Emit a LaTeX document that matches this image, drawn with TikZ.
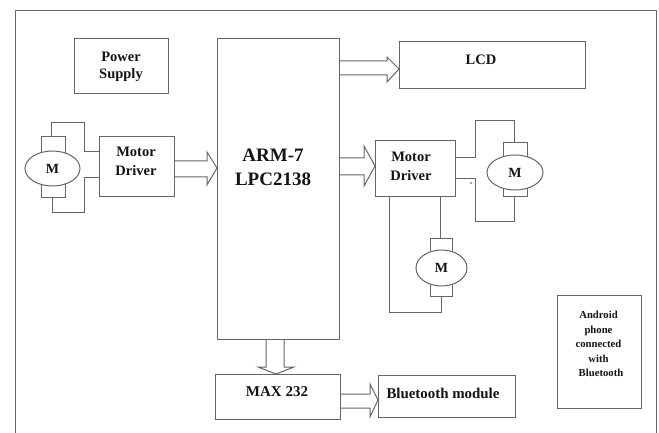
\documentclass[tikz,border=0pt]{standalone}
\usepackage{fontspec}
\setmainfont{Liberation Serif}
\usetikzlibrary{shapes.geometric}
\definecolor{ln}{gray}{0.4}
\definecolor{tx}{gray}{0.08}
\tikzset{
  box/.style={draw=ln,line width=1pt,fill=white,rectangle,inner sep=0pt,outer sep=0pt},
  wire/.style={draw=ln,line width=1pt},
  blockarr/.style={draw=ln,line width=1pt,line join=miter},
  motor/.style={draw=ln,line width=1pt,fill=white,ellipse,inner sep=0pt,outer sep=0pt,text=tx,font=\bfseries\fontsize{14}{16}\selectfont},
  lbl/.style={text=tx,align=center,inner sep=0pt,font=\bfseries\fontsize{14.5}{17}\selectfont},
  lblbig/.style={text=tx,align=center,inner sep=0pt,font=\bfseries\fontsize{19}{24}\selectfont},
  lblsmall/.style={text=tx,align=center,inner sep=0pt,font=\bfseries\fontsize{10.7}{14.5}\selectfont},
}
\begin{document}
\begin{tikzpicture}[x=1pt,y=-1pt]
\useasboundingbox (0,0) rectangle (659,433);
\fill[white] (0,0) rectangle (659,433);
% outer frame, open at the bottom
\coordinate (fbl) at (15,433);
\coordinate (ftl) at (15,11);
\coordinate (ftr) at (656,11);
\coordinate (fbr) at (656,433);
\draw[wire] (fbl) -- (ftl) -- (ftr) -- (fbr);
% blocks
\node[box,minimum width=94pt,minimum height=55pt] (power) at (121,66.5) {};
\node[box,minimum width=122pt,minimum height=300pt] (arm) at (278,189) {};
\node[box,minimum width=186pt,minimum height=47pt] (lcd) at (492,65.5) {};
\node[box,minimum width=75pt,minimum height=60pt] (mdl) at (136.5,167) {};
\node[box,minimum width=80pt,minimum height=56pt] (mdr) at (415,169) {};
\node[box,minimum width=125pt,minimum height=45pt] (max) at (277.5,396.5) {};
\node[box,minimum width=137pt,minimum height=42pt] (bt) at (446.5,396) {};
\node[box,minimum width=84pt,minimum height=113pt] (android) at (599,351.5) {};
% left motor
\node[box,minimum width=24pt,minimum height=61pt] (bl) at (53,167.5) {};
\node[motor,minimum width=55pt,minimum height=35pt] (ml) at (52.5,168.5) {M};
\coordinate (lt) at (51,122.5);
\coordinate (lt2) at (84,122.5);
\coordinate (lt3) at (84,152);
\coordinate (lb) at (52,212);
\coordinate (lb2) at (84,212);
\coordinate (lb3) at (84,178);
\draw[wire] (lt |- bl.north) -- (lt) -- (lt2) -- (lt3) -- (lt3 -| mdl.west);
\draw[wire] (lb |- bl.south) -- (lb) -- (lb2) -- (lb3) -- (lb3 -| mdl.west);
% right motor
\node[box,minimum width=24pt,minimum height=54pt] (br) at (515,170) {};
\node[motor,minimum width=56pt,minimum height=35pt] (mr) at (515,172.5) {M};
\coordinate (rt1) at (475,157.5);
\coordinate (rt2) at (475,121);
\coordinate (rt3) at (514,121);
\coordinate (rb1) at (475,179);
\coordinate (rb2) at (475,221);
\coordinate (rb3) at (514,221);
\draw[wire] (rt1 -| mdr.east) -- (rt1) -- (rt2) -- (rt3) -- (rt3 |- br.north);
\draw[wire] (rb1 -| mdr.east) -- (rb1) -- (rb2) -- (rb3) -- (rb3 |- br.south);
\fill[ln!70!black] (471,183) circle (0.8pt);
% bottom motor
\node[box,minimum width=22pt,minimum height=58pt] (bb) at (441,267) {};
\node[motor,minimum width=51pt,minimum height=36pt] (mb) at (441.5,268) {M};
\coordinate (bw) at (440.5,238);
\coordinate (bc1) at (389,312);
\coordinate (bc2) at (441,312);
\draw[wire] (bw |- mdr.south) -- (bw |- bb.north);
\draw[wire] (bc1 |- mdr.south) -- (bc1) -- (bc2) -- (bc2 |- bb.south);
% block arrows
\draw[blockarr] (arm.east |- 0,61) -- (387,61) -- (387,57) -- (lcd.west |- 0,69) -- (387,82) -- (387,75) -- (arm.east |- 0,75);
\draw[blockarr] (mdl.east |- 0,161) -- (207,161) -- (207,152) -- (arm.west |- 0,168) -- (207,185) -- (207,177) -- (mdl.east |- 0,177);
\draw[blockarr] (arm.east |- 0,158) -- (364,158) -- (364,146) -- (mdr.west |- 0,166) -- (364,186) -- (364,175) -- (arm.east |- 0,175);
\draw[blockarr] (266,0 |- arm.south) -- (266,367) -- (258,367) -- (276,0 |- max.north) -- (294,367) -- (284,367) -- (284,0 |- arm.south);
\draw[blockarr] (max.east |- 0,394) -- (370,394) -- (370,384) -- (bt.west |- 0,400) -- (370,417) -- (370,408) -- (max.east |- 0,408);
% labels
\node[lbl] (tpower) at (121,66.5) {Power\\Supply};
\node[lblbig] (tarm) at (273,167) {ARM-7\\LPC2138};
\node[lbl] (tlcd) at (481,60) {LCD};
\node[lbl,font=\bfseries\fontsize{14.5}{19}\selectfont] (tmdl) at (136,161.5) {Motor\\Driver};
\node[lbl,font=\bfseries\fontsize{14.5}{19}\selectfont] (tmdr) at (411,166.5) {Motor\\Driver};
\node[lbl,font=\bfseries\fontsize{15}{17}\selectfont] (tmax) at (277,392) {MAX 232};
\node[lbl,font=\bfseries\fontsize{14.9}{17}\selectfont] (tbt) at (443,393) {Bluetooth module};
\node[lblsmall] (tand) at (598.5,344) {Android\\phone\\connected\\with\\\hspace*{5pt}Bluetooth};
\end{tikzpicture}
\end{document}
